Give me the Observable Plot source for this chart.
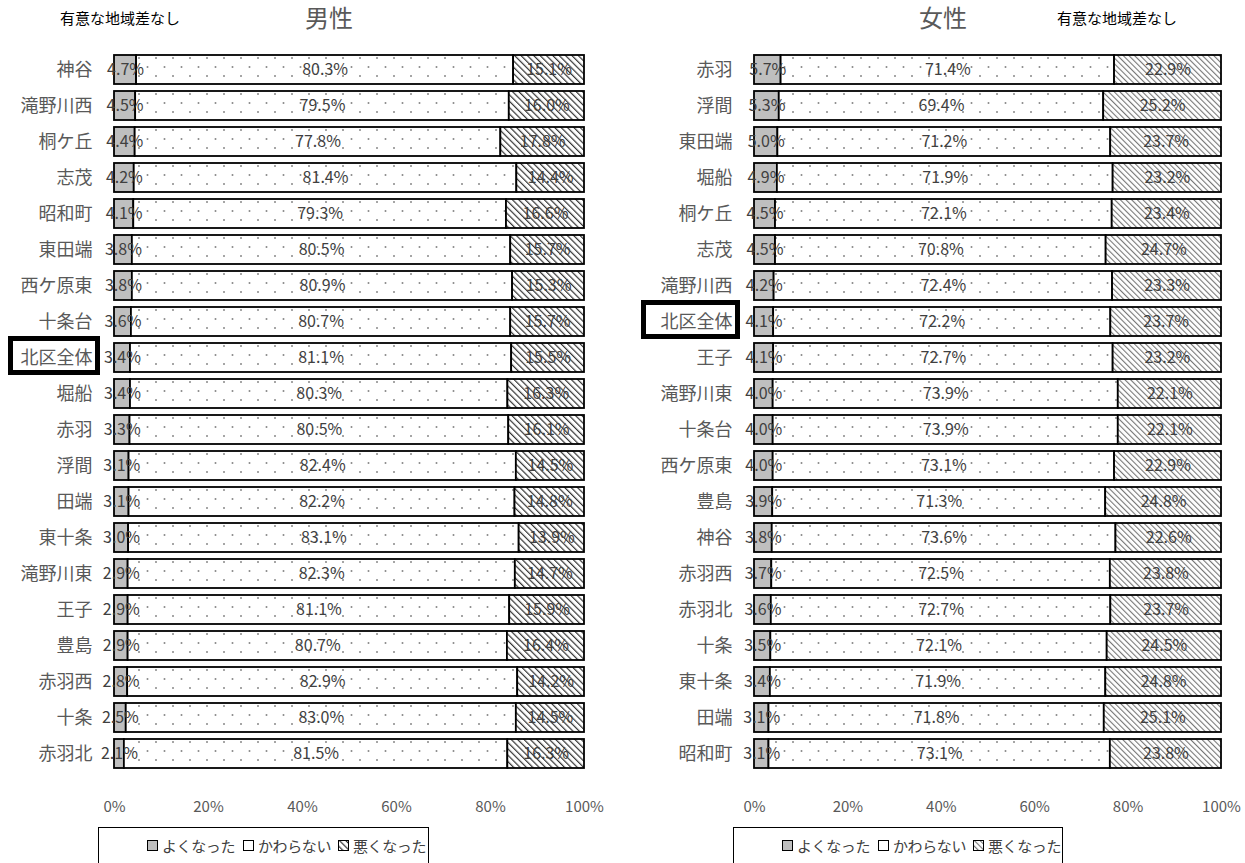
<!DOCTYPE html>
<html><head><meta charset="utf-8">
<script src="https://cdn.jsdelivr.net/npm/d3@7"></script>
<script src="https://cdn.jsdelivr.net/npm/@observablehq/plot@0.6"></script>
<style>
body{margin:0;background:#fff;font-family:"Noto Sans CJK JP","Noto Sans",sans-serif;}
#wrap{position:relative;width:1245px;height:863px;overflow:hidden;background:#fff;}
.abs{position:absolute;white-space:nowrap;line-height:1;}
.title{font-size:24px;color:#595959;}
.note{font-size:15px;color:#000;}
.legend{position:absolute;border:1px solid #000;box-sizing:border-box;height:40px;overflow:visible;font-size:15px;color:#404040;background:#fff;white-space:nowrap;line-height:1;}
.legend span{position:absolute;top:10px;display:inline-flex;align-items:center;gap:4px;white-space:nowrap;letter-spacing:-0.4px;}
.legend svg{display:block;}
.box{position:absolute;border:5px solid #000;box-sizing:border-box;}
</style></head>
<body>
<svg width="0" height="0" style="position:absolute">
  <defs>
    <pattern id="dots" patternUnits="userSpaceOnUse" width="17" height="18">
      <rect width="17" height="18" fill="#fff"/>
      <circle cx="3" cy="4" r="1" fill="#888"/>
      <circle cx="11.5" cy="13" r="1" fill="#888"/>
    </pattern>
    <pattern id="hatchL" patternUnits="userSpaceOnUse" width="4.5" height="4.5" patternTransform="rotate(-45)">
      <rect width="4.5" height="4.5" fill="#fff"/>
      <rect x="0" y="0" width="1.2" height="4.5" fill="#333"/>
    </pattern>
    <pattern id="hatchR" patternUnits="userSpaceOnUse" width="4" height="4" patternTransform="rotate(-45)">
      <rect width="4" height="4" fill="#fff"/>
      <rect x="0" y="0" width="1.1" height="4" fill="#777"/>
    </pattern>
  </defs>
</svg>
<div id="wrap">
  <div class="abs note" style="left:60px;top:10px;">有意な地域差なし</div>
  <div class="abs title" style="left:305px;top:5px;">男性</div>
  <div class="abs title" style="left:919px;top:5px;">女性</div>
  <div class="abs note" style="left:1057px;top:10px;">有意な地域差なし</div>
  <div id="left" class="abs" style="left:0;top:0;"></div>
  <div id="right" class="abs" style="left:620px;top:0;"></div>
  <div class="legend" style="left:98px;top:827px;width:331px;">
    <span style="left:48px"><svg width="11" height="11"><rect x="0.5" y="0.5" width="10" height="10" fill="#bfbfbf" stroke="#000"/></svg>よくなった</span>
    <span style="left:144px"><svg width="11" height="11"><rect x="0.5" y="0.5" width="10" height="10" fill="#fff" stroke="#000"/></svg>かわらない</span>
    <span style="left:239px"><svg width="11" height="11"><rect x="0.5" y="0.5" width="10" height="10" fill="url(#hatchL)" stroke="#000"/></svg>悪くなった</span>
  </div>
  <div class="legend" style="left:733px;top:827px;width:330px;">
    <span style="left:48px"><svg width="11" height="11"><rect x="0.5" y="0.5" width="10" height="10" fill="#bfbfbf" stroke="#000"/></svg>よくなった</span>
    <span style="left:144px"><svg width="11" height="11"><rect x="0.5" y="0.5" width="10" height="10" fill="#fff" stroke="#000"/></svg>かわらない</span>
    <span style="left:239px"><svg width="11" height="11"><rect x="0.5" y="0.5" width="10" height="10" fill="url(#hatchR)" stroke="#000"/></svg>悪くなった</span>
  </div>
</div>
<script>
const seriesNames = ["よくなった", "かわらない", "悪くなった"];
const xTicks = [0, 0.2, 0.4, 0.6, 0.8, 1];

const maleAreas = ["神谷","滝野川西","桐ケ丘","志茂","昭和町","東田端","西ケ原東","十条台","北区全体","堀船","赤羽","浮間","田端","東十条","滝野川東","王子","豊島","赤羽西","十条","赤羽北"];
const maleGood = [4.7,4.5,4.4,4.2,4.1,3.8,3.8,3.6,3.4,3.4,3.3,3.1,3.1,3.0,2.9,2.9,2.9,2.8,2.5,2.1];
const maleSame = [80.3,79.5,77.8,81.4,79.3,80.5,80.9,80.7,81.1,80.3,80.5,82.4,82.2,83.1,82.3,81.1,80.7,82.9,83.0,81.5];
const maleBad  = [15.1,16.0,17.8,14.4,16.6,15.7,15.3,15.7,15.5,16.3,16.1,14.5,14.8,13.9,14.7,15.9,16.4,14.2,14.5,16.3];

const femaleAreas = ["赤羽","浮間","東田端","堀船","桐ケ丘","志茂","滝野川西","北区全体","王子","滝野川東","十条台","西ケ原東","豊島","神谷","赤羽西","赤羽北","十条","東十条","田端","昭和町"];
const femaleGood = [5.7,5.3,5.0,4.9,4.5,4.5,4.2,4.1,4.1,4.0,4.0,4.0,3.9,3.8,3.7,3.6,3.5,3.4,3.1,3.1];
const femaleSame = [71.4,69.4,71.2,71.9,72.1,70.8,72.4,72.2,72.7,73.9,73.9,73.1,71.3,73.6,72.5,72.7,72.1,71.9,71.8,73.1];
const femaleBad  = [22.9,25.2,23.7,23.2,23.4,24.7,23.3,23.7,23.2,22.1,22.1,22.9,24.8,22.6,23.8,23.7,24.5,24.8,25.1,23.8];

const highlight = "北区全体";

function table(areas, good, same, bad) {
  const rows = [];
  areas.forEach((a, i) => {
    [good[i], same[i], bad[i]].forEach((v, j) => rows.push({area: a, series: seriesNames[j], value: v}));
  });
  return rows;
}

function panel(el, areas, good, same, bad, opts) {
  const data = table(areas, good, same, bad);
  const chart = Plot.plot({
    width: opts.width,
    height: 820,
    marginLeft: opts.marginLeft,
    marginRight: opts.marginRight,
    marginTop: 42,
    marginBottom: 39,
    style: {fontFamily: '"Noto Sans CJK JP","Noto Sans",sans-serif', fontSize: "15px", background: "transparent"},
    x: {domain: [0, 1], label: null},
    y: {domain: areas, padding: 0.2, label: null},
    color: {domain: seriesNames, range: ["#bfbfbf", "url(#dots)", opts.hatch]},
    marks: [
      Plot.barX(data, Plot.stackX({x: "value", y: "area", fill: "series", offset: "normalize", stroke: "#000", strokeWidth: 1.8})),
      Plot.text(data, Plot.stackX({x: "value", y: "area", offset: "normalize", text: d => d.value.toFixed(1) + "%", fill: "#404040", fontSize: 16})),
      Plot.axisY({tickSize: 0, tickPadding: 22, color: "#595959", fontSize: 18, label: null}),
      Plot.axisX({ticks: xTicks, tickFormat: d3.format(".0%"), tickSize: 0, tickPadding: 20, color: "#595959", fontSize: 15, label: null})
    ]
  });
  document.getElementById(el).appendChild(chart);
  return chart;
}

const L = panel("left", maleAreas, maleGood, maleSame, maleBad, {width: 620, marginLeft: 114, marginRight: 36, hatch: "url(#hatchL)"});
const R = panel("right", femaleAreas, femaleGood, femaleSame, femaleBad, {width: 625, marginLeft: 134, marginRight: 24, hatch: "url(#hatchR)"});

const wrap = document.getElementById("wrap");
const wr = wrap.getBoundingClientRect();
[[L, 13, 7], [R, 20, 7]].forEach(([chart, padL, padR]) => {
  chart.querySelectorAll('[aria-label="y-axis tick label"] text').forEach(t => {
    if (t.textContent === highlight) {
      const b = t.getBoundingClientRect();
      const cy = b.top + b.height / 2 - wr.top;
      const box = document.createElement("div");
      box.className = "box";
      box.style.left = (b.left - wr.left - padL) + "px";
      box.style.width = (b.width + padL + padR) + "px";
      box.style.top = (cy - 19.5) + "px";
      box.style.height = "39px";
      wrap.appendChild(box);
    }
  });
});
</script>
</body></html>
